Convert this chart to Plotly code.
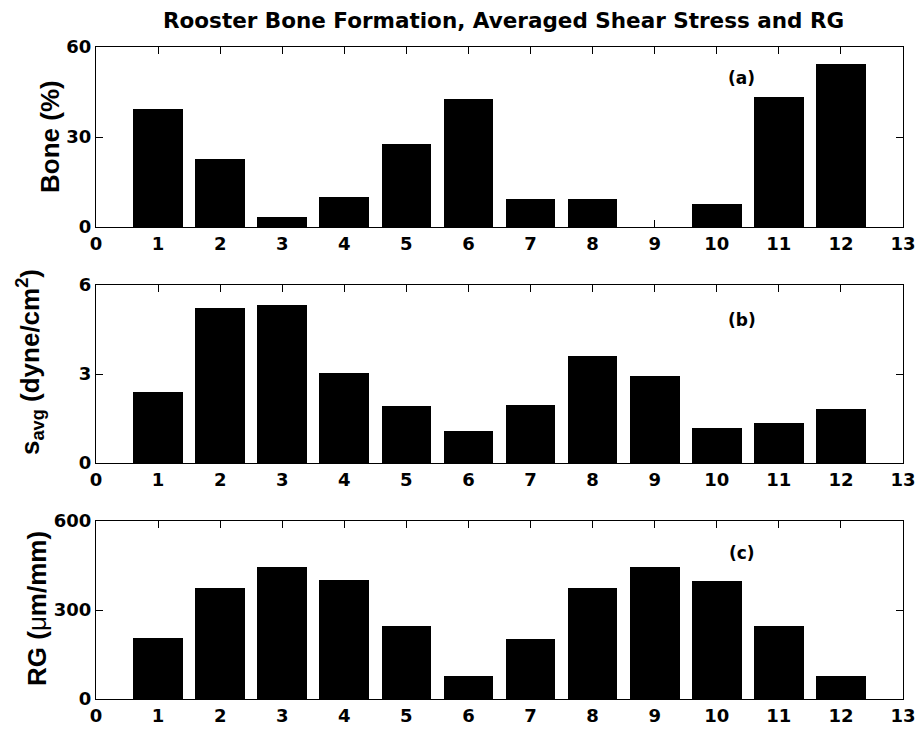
import plotly.graph_objects as go
from plotly.subplots import make_subplots

# Sample sites along the rooster ulna
sites = list(range(1, 13))

# (a) bone formation, percent
bone_pct = [39.2, 22.7, 3.4, 10.1, 27.6, 42.7, 9.2, 9.2, 0.0, 7.7, 43.4, 54.4]
# (b) averaged shear stress, dyne/cm^2
shear_avg = [2.41, 5.22, 5.31, 3.04, 1.91, 1.09, 1.97, 3.60, 2.94, 1.18, 1.34, 1.82]
# (c) RG, um/mm
rg_vals = [206, 375, 445, 400, 247, 79, 203, 374, 445, 397, 247, 77]

x_ticks = list(range(0, 14))
y_ticks_a = [0, 30, 60]
y_ticks_b = [0, 3, 6]
y_ticks_c = [0, 300, 600]

W, H = 921, 732


def fx(px):
    return px / W


def fy(py):
    return 1 - py / H


TICK_FONT = dict(family="DejaVu Sans", size=18, color="black", weight="bold")
LABEL_FONT = dict(family="Liberation Sans", size=26, color="black", weight="bold")

fig = make_subplots(rows=3, cols=1)

panels = [
    (bone_pct, y_ticks_a, (47, 227)),
    (shear_avg, y_ticks_b, (285, 463)),
    (rg_vals, y_ticks_c, (521, 699)),
]

for i, (vals, yt, (top, bot)) in enumerate(panels, start=1):
    fig.add_trace(
        go.Bar(
            x=sites,
            y=vals,
            width=0.8,
            marker=dict(color="black", line=dict(width=0)),
            showlegend=False,
        ),
        row=i,
        col=1,
    )
    fig.update_xaxes(
        domain=[fx(96), fx(903)],
        range=[0, 13],
        tickvals=x_ticks,
        ticktext=[str(v) for v in x_ticks],
        ticks="inside",
        ticklen=7,
        tickwidth=1,
        tickcolor="black",
        showline=True,
        linecolor="black",
        linewidth=1,
        mirror="ticks",
        showgrid=False,
        zeroline=False,
        automargin=False,
        tickfont=TICK_FONT,
        row=i,
        col=1,
    )
    fig.update_yaxes(
        domain=[fy(bot), fy(top)],
        range=[yt[0], yt[-1]],
        tickvals=yt,
        ticktext=[str(v) for v in yt],
        ticks="inside",
        ticklen=7,
        tickwidth=1,
        tickcolor="black",
        showline=True,
        linecolor="black",
        linewidth=1,
        mirror="ticks",
        showgrid=False,
        zeroline=False,
        automargin=False,
        tickfont=TICK_FONT,
        row=i,
        col=1,
    )

annotations = [
    dict(
        text="Rooster Bone Formation, Averaged Shear Stress and RG",
        x=fx(503), y=fy(20), xref="paper", yref="paper",
        xanchor="center", yanchor="middle", showarrow=False,
        font=dict(family="DejaVu Sans", size=21.5, color="black", weight="bold"),
    ),
    dict(
        text="Bone (%)",
        x=fx(50), y=fy(137), xref="paper", yref="paper",
        xanchor="center", yanchor="middle", showarrow=False, textangle=-90,
        font=LABEL_FONT,
    ),
    dict(
        text="s<sub>avg</sub> (dyne/cm<sup>2</sup>)",
        x=fx(30), y=fy(362), xref="paper", yref="paper",
        xanchor="center", yanchor="middle", showarrow=False, textangle=-90,
        font=LABEL_FONT,
    ),
    dict(
        text="RG (<span style='font-weight:normal'>μ</span>m/mm)",
        x=fx(37), y=fy(609), xref="paper", yref="paper",
        xanchor="center", yanchor="middle", showarrow=False, textangle=-90,
        font=LABEL_FONT,
    ),
]

panel_tags = [("(a)", "x", "y", 49.7), ("(b)", "x2", "y2", 4.82), ("(c)", "x3", "y3", 491)]
for tag, xr, yr, yv in panel_tags:
    annotations.append(
        dict(
            text=tag, x=10.4, y=yv, xref=xr, yref=yr,
            xanchor="center", yanchor="middle", showarrow=False,
            font=dict(family="DejaVu Sans", size=17, color="black", weight="bold"),
        )
    )

fig.update_layout(
    width=W,
    height=H,
    margin=dict(l=0, r=0, t=0, b=0),
    paper_bgcolor="white",
    plot_bgcolor="white",
    bargap=0,
    annotations=annotations,
    showlegend=False,
)

fig.write_html("out.html")
